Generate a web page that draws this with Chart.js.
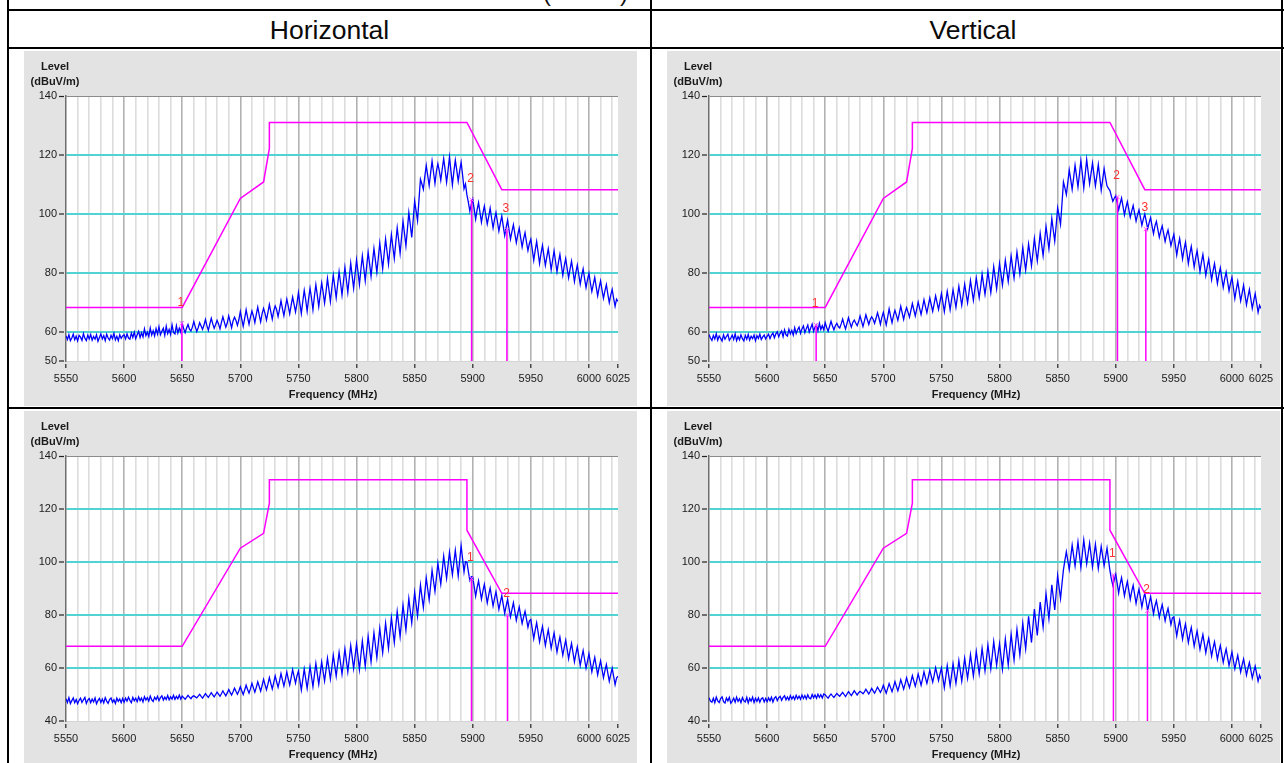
<!DOCTYPE html>
<html>
<head>
<meta charset="utf-8">
<script src="https://cdn.jsdelivr.net/npm/chart.js@4.4.1/dist/chart.umd.min.js"></script>
<style>
  html, body { margin: 0; padding: 0; background: #fff; width: 1284px; height: 763px; overflow: hidden;
               font-family: "Liberation Sans", Arial, sans-serif; }
  .rule { position: absolute; background: #000; }
  .head { position: absolute; top: 12px; height: 36px; line-height: 36px; text-align: center;
          font-size: 26.5px; color: #0a0a0a; }
  .cut { position: absolute; top: -19px; font-size: 24px; line-height: 24px; color: #111; }
  canvas { position: absolute; }
</style>
</head>
<body>
<div class="cut" style="left:543px">(</div>
<div class="cut" style="left:620px">)</div>

<div class="rule" style="left:7px;top:9px;width:1277px;height:2px"></div>
<div class="rule" style="left:7px;top:47px;width:1277px;height:2px"></div>
<div class="rule" style="left:7px;top:407px;width:1277px;height:2px"></div>
<div class="rule" style="left:7px;top:0;width:2px;height:763px"></div>
<div class="rule" style="left:650px;top:0;width:2px;height:763px"></div>
<div class="rule" style="left:1281px;top:0;width:2px;height:763px"></div>

<div class="head" style="left:9px;width:641px">Horizontal</div>
<div class="head" style="left:652px;width:642px">Vertical</div>

<canvas id="hTop" width="613" height="355" style="left:24px;top:51px"></canvas>
<canvas id="vTop" width="613" height="355" style="left:667px;top:51px"></canvas>
<canvas id="hBottom" width="613" height="355" style="left:24px;top:411px"></canvas>
<canvas id="vBottom" width="613" height="355" style="left:667px;top:411px"></canvas>

<script>
// Sweep: 5550 MHz to 6025 MHz, one reading every 1.25 MHz (381 points, 40 per 50 MHz row)
const SWEEP_START_MHZ = 5550;
const SWEEP_STEP_MHZ = 1.25;

// Measured level (dBuV/m), horizontal polarisation, upper plot
const H_TOP_TRACE = [
  58.6, 57.3, 58.9, 56.9, 57.8, 59.1, 57.2, 58.4, 56.8, 58.7, 58.1, 57.0, 59.3, 57.7, 56.9, 58.8, 57.5, 59.0, 57.1, 58.3,
  57.4, 58.9, 56.7, 58.0, 59.2, 57.5, 58.6, 56.9, 59.1, 57.8, 57.1, 58.7, 57.6, 59.4, 57.2, 58.4, 56.9, 58.9, 57.7, 58.5,
  58.9, 57.5, 59.2, 57.8, 57.4, 59.5, 58.0, 59.8, 57.6, 58.9, 60.1, 58.0, 59.6, 58.2, 60.9, 58.6, 59.8, 58.3, 61.2, 58.8,
  60.3, 58.5, 61.0, 59.1, 61.6, 58.9, 60.1, 61.1, 58.7, 61.8, 59.3, 60.7, 59.0, 62.3, 59.7, 59.2, 62.0, 59.5, 61.2, 59.8,
  62.7, 61.0, 59.6, 61.2, 62.4, 60.8, 60.2, 61.5, 63.4, 61.6, 60.0, 61.3, 63.0, 61.9, 60.7, 62.2, 64.1, 62.0, 60.4, 62.5,
  64.5, 62.7, 61.1, 62.4, 63.8, 62.6, 60.9, 63.1, 65.0, 63.2, 61.5, 62.9, 65.3, 63.4, 61.3, 63.6, 64.9, 63.8, 62.1, 64.0,
  66.8, 64.2, 61.8, 64.5, 67.4, 64.8, 62.5, 65.0, 67.0, 65.3, 63.0, 65.8, 68.3, 65.6, 63.3, 66.1, 67.9, 66.2, 63.9, 66.4,
  69.2, 66.7, 64.2, 67.0, 68.7, 67.4, 65.1, 67.6, 70.5, 67.8, 65.4, 68.3, 71.0, 68.6, 66.0, 69.0, 71.7, 69.2, 66.7, 69.6,
  73.2, 69.5, 66.1, 70.2, 74.0, 70.8, 66.9, 71.1, 74.7, 71.4, 67.4, 72.0, 75.9, 72.3, 68.5, 72.6, 76.5, 73.4, 69.7, 73.5,
  78.0, 74.2, 70.2, 74.8, 79.1, 75.4, 71.5, 75.9, 80.3, 76.5, 72.4, 77.0, 81.8, 77.6, 73.3, 78.2, 83.2, 78.9, 74.7, 79.5,
  84.3, 80.4, 76.0, 81.0, 85.7, 81.5, 77.2, 82.3, 86.9, 83.0, 78.8, 83.6, 88.2, 84.2, 80.1, 85.0, 90.0, 85.7, 81.3, 86.4,
  91.4, 87.2, 82.9, 88.0, 92.9, 88.8, 84.8, 90.1, 95.2, 91.0, 86.6, 92.0, 97.5, 93.4, 89.1, 94.6, 100.4, 96.3, 92.0, 97.8,
  104.3, 101.0, 97.7, 104.8, 111.7, 110.1, 108.3, 112.6, 116.4, 113.0, 109.6, 113.8, 117.9, 114.1, 110.3, 114.5, 117.0, 114.6, 111.4, 115.2,
  118.7, 114.9, 110.7, 114.7, 119.3, 114.5, 109.8, 114.3, 118.2, 114.8, 111.1, 114.6, 117.5, 113.2, 108.5, 110.1, 106.4, 103.9, 100.9, 103.2,
  104.9, 101.6, 98.2, 101.3, 103.8, 100.4, 97.1, 100.2, 102.6, 99.5, 96.5, 99.0, 101.9, 98.4, 95.2, 98.1, 100.4, 97.3, 94.1, 96.8,
  99.2, 95.8, 92.6, 95.4, 97.8, 94.5, 91.4, 94.0, 96.3, 93.2, 90.2, 92.9, 95.1, 91.8, 88.7, 91.5, 93.6, 90.4, 87.5, 89.9,
  91.4, 87.8, 84.2, 87.6, 90.6, 86.9, 83.1, 86.5, 89.3, 85.8, 82.5, 85.4, 88.1, 84.7, 81.0, 84.3, 87.4, 83.8, 80.3, 83.5,
  86.2, 82.6, 79.1, 82.3, 84.8, 81.4, 78.2, 81.2, 83.9, 80.6, 77.0, 80.1, 82.6, 79.3, 76.1, 79.0, 81.3, 78.0, 74.9, 77.6,
  79.8, 76.5, 73.6, 76.0, 78.4, 75.2, 72.1, 74.9, 77.2, 74.1, 71.3, 73.8, 75.9, 72.7, 69.8, 72.4, 74.3, 71.3, 68.6, 71.0,
  70.2
];

// Measured level (dBuV/m), vertical polarisation, upper plot
const V_TOP_TRACE = [
  59.0, 57.8, 57.0, 58.7, 57.5, 59.3, 57.1, 58.5, 57.7, 56.8, 58.9, 57.4, 58.3, 59.1, 57.0, 57.8, 58.8, 57.3, 59.2, 56.9,
  58.3, 57.2, 58.9, 57.6, 56.8, 58.7, 57.4, 59.0, 57.1, 58.4, 57.6, 58.8, 56.9, 58.6, 57.7, 59.1, 57.3, 58.2, 58.8, 57.5,
  58.4, 59.1, 57.6, 58.8, 59.5, 57.9, 59.2, 59.9, 58.2, 59.4, 60.2, 58.3, 60.6, 58.9, 58.5, 60.8, 59.2, 60.4, 58.8, 61.3,
  59.3, 60.6, 61.5, 59.4, 60.9, 61.9, 59.6, 61.0, 62.2, 59.8, 61.2, 62.5, 60.1, 61.6, 62.3, 60.3, 62.8, 60.7, 62.0, 60.6,
  63.0, 61.4, 60.1, 61.8, 63.5, 61.9, 60.6, 62.0, 62.8, 61.7, 61.2, 62.6, 64.2, 62.4, 60.9, 62.8, 64.7, 63.0, 61.5, 63.1,
  63.9, 62.9, 62.0, 63.4, 65.3, 63.5, 61.7, 63.6, 65.7, 64.0, 62.4, 64.1, 65.0, 64.2, 62.8, 64.5, 66.4, 64.6, 62.5, 64.8,
  66.5, 64.4, 62.3, 64.9, 67.7, 65.2, 63.0, 65.4, 67.2, 65.6, 63.8, 66.1, 68.6, 66.3, 64.1, 66.5, 68.1, 66.6, 64.9, 67.2,
  69.5, 67.4, 65.3, 67.6, 70.0, 67.9, 65.8, 68.2, 70.8, 68.5, 66.4, 68.9, 71.4, 69.1, 66.9, 69.4, 72.1, 69.8, 67.5, 70.1,
  72.9, 69.9, 66.8, 70.3, 73.7, 70.6, 67.4, 70.9, 74.2, 71.3, 68.2, 71.8, 75.4, 72.1, 68.9, 72.5, 76.1, 72.9, 69.8, 73.4,
  77.3, 74.0, 70.6, 74.3, 78.2, 74.8, 71.5, 75.1, 79.5, 76.0, 72.6, 76.2, 80.4, 76.8, 73.2, 77.3, 82.0, 78.4, 74.5, 78.6,
  83.1, 79.5, 75.8, 79.9, 84.2, 80.6, 77.0, 81.2, 85.7, 81.9, 78.2, 82.4, 87.0, 83.3, 79.5, 83.9, 88.5, 84.6, 80.9, 85.1,
  89.7, 86.1, 82.3, 86.8, 91.6, 87.7, 84.0, 88.4, 93.3, 89.5, 85.8, 90.6, 95.7, 91.9, 88.1, 93.0, 98.4, 94.4, 90.7, 96.1,
  102.0, 99.3, 96.4, 103.5, 110.8, 108.8, 106.5, 110.6, 114.9, 111.7, 108.3, 112.2, 116.5, 112.9, 109.1, 113.4, 118.0, 113.6, 108.8, 113.5,
  118.4, 114.2, 110.2, 113.7, 117.2, 113.4, 109.5, 112.9, 116.7, 112.5, 108.0, 111.6, 115.3, 112.2, 109.4, 108.6, 107.9, 106.0, 104.2, 105.3,
  106.2, 103.8, 101.3, 103.4, 105.3, 102.5, 99.6, 102.1, 104.1, 101.5, 98.8, 100.9, 102.8, 100.1, 97.5, 99.6, 101.3, 98.8, 96.1, 98.2,
  99.9, 97.4, 94.9, 97.0, 98.7, 95.8, 93.2, 95.9, 97.4, 94.6, 92.0, 94.3, 95.9, 93.3, 90.6, 92.8, 94.5, 91.8, 89.2, 91.2,
  93.0, 89.5, 86.0, 89.1, 91.6, 88.2, 84.7, 87.8, 90.3, 86.8, 83.1, 86.4, 88.9, 85.4, 81.9, 85.0, 87.4, 83.9, 80.4, 83.6,
  86.2, 82.6, 79.0, 82.1, 84.5, 81.0, 77.6, 80.6, 83.1, 79.7, 76.3, 79.3, 81.6, 78.2, 75.0, 77.9, 80.2, 77.0, 73.8, 76.4,
  78.4, 74.8, 71.2, 74.3, 77.0, 73.7, 70.4, 73.0, 75.7, 72.4, 69.1, 71.8, 74.3, 71.1, 67.9, 70.5, 72.9, 69.7, 66.5, 68.9,
  67.8
];

// Measured level (dBuV/m), horizontal polarisation, lower plot
const H_BOTTOM_TRACE = [
  48.4, 47.0, 48.8, 46.6, 47.7, 48.7, 46.9, 48.1, 46.5, 47.8, 48.6, 47.0, 48.0, 48.9, 46.6, 47.9, 48.5, 46.9, 48.3, 47.2,
  48.7, 46.5, 47.7, 48.5, 47.0, 48.3, 46.8, 48.8, 47.5, 46.7, 48.1, 48.7, 47.1, 48.0, 46.6, 48.6, 47.4, 48.3, 46.9, 48.5,
  47.1, 48.6, 47.5, 49.0, 47.8, 46.9, 48.9, 47.6, 48.6, 47.3, 49.1, 47.7, 48.7, 47.2, 49.2, 47.9, 48.8, 47.5, 49.4, 48.0,
  47.4, 49.0, 48.1, 49.3, 47.7, 48.8, 49.5, 47.9, 49.0, 48.1, 49.6, 48.0, 49.1, 48.3, 49.7, 48.2, 49.3, 48.4, 49.8, 48.3,
  49.4, 48.8, 48.2, 48.9, 49.7, 49.0, 48.4, 49.2, 49.5, 49.1, 48.7, 49.4, 50.1, 49.3, 48.6, 49.5, 50.3, 49.6, 48.9, 49.8,
  50.7, 49.9, 49.1, 50.0, 50.9, 50.1, 49.3, 50.3, 51.4, 50.4, 49.5, 50.6, 51.9, 50.8, 49.8, 51.0, 52.4, 51.2, 50.1, 51.3,
  52.9, 51.4, 50.0, 51.7, 53.5, 51.9, 50.5, 52.2, 54.2, 52.5, 50.9, 52.7, 54.8, 53.0, 51.3, 53.4, 55.7, 53.7, 51.8, 53.9,
  56.4, 54.2, 52.1, 54.5, 57.0, 54.8, 52.7, 55.1, 57.9, 55.5, 53.2, 55.7, 58.5, 55.9, 53.6, 56.4, 59.4, 56.8, 54.3, 57.0,
  58.8, 55.3, 51.7, 55.6, 59.6, 56.0, 52.3, 56.4, 60.5, 56.8, 53.0, 57.3, 61.7, 57.7, 53.9, 58.0, 62.3, 58.6, 55.1, 59.3,
  63.7, 59.8, 55.8, 60.1, 64.8, 60.9, 56.9, 61.4, 65.9, 61.8, 57.7, 62.3, 67.2, 62.9, 58.6, 63.5, 68.5, 64.2, 59.8, 64.4,
  69.0, 64.3, 59.4, 64.8, 70.2, 65.4, 60.6, 66.2, 71.9, 67.1, 62.3, 67.8, 73.3, 68.6, 63.9, 69.4, 75.0, 70.3, 65.7, 71.2,
  76.9, 72.1, 67.4, 73.2, 79.0, 74.3, 69.6, 75.5, 81.3, 76.6, 71.8, 77.7, 83.7, 79.0, 74.3, 80.2, 86.2, 81.6, 77.0, 82.8,
  88.5, 84.1, 79.6, 85.4, 91.3, 87.0, 82.8, 88.4, 94.0, 89.8, 85.7, 91.2, 96.9, 92.8, 88.9, 94.1, 99.5, 95.5, 91.6, 96.8,
  102.2, 98.0, 93.8, 98.7, 103.7, 99.4, 95.2, 99.8, 104.4, 99.6, 94.7, 100.4, 106.2, 101.3, 96.3, 100.1, 99.9, 96.4, 93.1, 94.5,
  94.3, 90.7, 87.1, 90.3, 92.9, 89.4, 86.0, 89.0, 91.6, 88.1, 84.6, 87.6, 90.2, 86.8, 83.4, 86.3, 88.8, 85.4, 82.1, 84.9,
  87.3, 83.9, 80.6, 83.4, 85.9, 82.6, 79.3, 82.1, 84.6, 81.3, 78.0, 80.7, 83.0, 79.9, 76.8, 79.2, 81.4, 78.4, 75.4, 77.8,
  78.3, 74.7, 71.1, 74.3, 77.1, 73.5, 69.9, 73.0, 75.7, 72.1, 68.5, 71.6, 74.4, 70.9, 67.4, 70.5, 73.2, 69.6, 66.0, 69.1,
  71.7, 68.2, 64.8, 67.8, 70.5, 67.0, 63.5, 66.6, 69.3, 65.8, 62.3, 65.3, 68.0, 64.5, 61.0, 64.0, 66.6, 63.2, 59.9, 62.6,
  65.4, 62.0, 58.6, 61.5, 64.0, 60.7, 57.4, 60.2, 62.7, 59.5, 56.3, 59.0, 61.3, 58.1, 55.0, 57.6, 59.9, 56.8, 53.7, 56.2,
  56.9
];

// Measured level (dBuV/m), vertical polarisation, lower plot
const V_BOTTOM_TRACE = [
  48.8, 47.5, 47.1, 48.6, 46.9, 49.0, 47.6, 47.0, 48.5, 49.1, 47.3, 46.8, 48.7, 47.6, 48.9, 46.7, 47.5, 48.6, 47.1, 49.0,
  47.4, 48.4, 46.9, 48.8, 47.6, 47.2, 48.9, 46.8, 48.5, 47.5, 49.0, 47.0, 48.6, 47.4, 48.7, 47.1, 48.4, 48.8, 47.2, 48.5,
  47.3, 48.7, 47.6, 49.0, 47.2, 48.6, 49.2, 47.7, 48.8, 49.3, 47.8, 48.9, 49.5, 48.0, 49.1, 47.9, 49.6, 48.3, 49.3, 48.1,
  49.7, 48.4, 49.4, 48.2, 49.8, 48.5, 49.6, 48.3, 49.9, 48.7, 48.4, 50.0, 48.8, 49.8, 48.6, 50.1, 48.9, 49.9, 48.7, 50.2,
  49.9, 49.2, 48.6, 49.5, 50.2, 49.5, 48.9, 49.7, 50.4, 49.8, 49.3, 50.1, 50.8, 50.0, 49.2, 50.2, 51.1, 50.3, 49.6, 50.5,
  51.4, 50.6, 49.8, 50.7, 51.2, 50.8, 50.3, 51.0, 52.0, 51.1, 50.2, 51.2, 52.3, 51.4, 50.5, 51.6, 52.8, 51.8, 50.8, 51.9,
  53.5, 52.0, 50.5, 52.3, 54.1, 52.6, 51.1, 52.9, 54.9, 53.1, 51.4, 53.3, 55.6, 53.8, 52.0, 54.0, 56.3, 54.4, 52.6, 54.8,
  57.1, 55.1, 53.1, 55.3, 57.7, 55.6, 53.5, 55.9, 58.6, 56.3, 54.2, 56.6, 59.2, 56.9, 54.7, 57.2, 60.1, 57.7, 55.3, 57.8,
  60.0, 56.3, 52.6, 56.6, 60.9, 57.1, 53.3, 57.3, 61.6, 57.9, 54.2, 58.2, 62.8, 58.9, 55.0, 59.2, 63.7, 59.8, 56.1, 60.3,
  65.0, 61.0, 56.9, 61.4, 66.2, 62.0, 57.8, 62.4, 67.4, 63.1, 58.9, 63.6, 68.7, 64.2, 59.7, 64.7, 70.0, 65.5, 61.0, 65.2,
  69.2, 64.4, 59.6, 65.1, 70.9, 66.0, 61.1, 66.8, 72.7, 67.8, 63.0, 68.7, 74.6, 69.7, 64.9, 70.7, 76.8, 72.0, 67.2, 73.3,
  79.5, 74.6, 69.6, 75.8, 82.2, 77.2, 72.3, 78.5, 84.9, 80.1, 75.4, 81.6, 88.0, 83.3, 78.6, 84.9, 91.4, 86.7, 81.9, 88.3,
  94.9, 90.4, 86.2, 91.8, 97.1, 100.6, 103.9, 100.5, 97.2, 101.8, 106.4, 102.4, 98.5, 103.0, 107.6, 102.7, 98.0, 103.1, 108.3, 103.7,
  99.3, 103.2, 107.1, 102.6, 98.1, 102.4, 106.7, 102.1, 97.5, 101.7, 105.9, 102.2, 98.6, 101.9, 105.2, 101.0, 96.8, 93.5, 91.2, 93.3,
  95.4, 91.9, 88.3, 91.6, 94.1, 90.7, 87.2, 90.2, 92.6, 89.3, 85.9, 88.9, 91.2, 87.8, 84.4, 87.4, 89.8, 86.4, 83.0, 86.0,
  88.3, 85.0, 81.7, 84.5, 86.9, 83.7, 80.4, 83.4, 85.4, 82.3, 79.1, 81.8, 83.9, 80.9, 77.8, 80.5, 82.5, 79.5, 76.4, 78.9,
  79.3, 75.7, 72.1, 75.4, 78.0, 74.5, 70.9, 74.1, 76.6, 73.1, 69.6, 72.8, 75.3, 71.8, 68.2, 71.3, 73.9, 70.4, 67.0, 70.0,
  72.6, 69.2, 65.7, 68.8, 71.2, 67.9, 64.5, 67.5, 69.9, 66.6, 63.3, 66.2, 68.5, 65.3, 62.1, 64.9, 67.2, 64.0, 60.9, 63.5,
  66.0, 62.8, 59.7, 62.4, 64.8, 61.6, 58.5, 61.2, 63.4, 60.4, 57.3, 59.9, 62.1, 59.2, 56.2, 58.6, 60.7, 57.9, 55.0, 57.3,
  55.8
];

// Limit masks (frequency MHz / level dBuV/m)
const LIMIT_TOP_FREQ  = [5550, 5650, 5700, 5720, 5725, 5725, 5895, 5925, 6025];
const LIMIT_TOP_LEVEL = [68.2, 68.2, 105.2, 110.8, 122.2, 131.0, 131.0, 108.2, 108.2];
const LIMIT_BOTTOM_FREQ  = [5550, 5650, 5700, 5720, 5725, 5725, 5895, 5895, 5925, 6025];
const LIMIT_BOTTOM_LEVEL = [68.2, 68.2, 105.2, 110.8, 122.2, 131.0, 131.0, 112.0, 88.2, 88.2];

// Markers (frequency MHz / level dBuV/m)
const H_TOP_MARKER_FREQ  = [5649.7, 5899.0, 5929.4];
const H_TOP_MARKER_LEVEL = [62.8, 104.8, 94.6];
const V_TOP_MARKER_FREQ  = [5642.2, 5901.5, 5925.9];
const V_TOP_MARKER_LEVEL = [62.2, 105.7, 94.8];
const H_BOTTOM_MARKER_FREQ  = [5898.9, 5929.9];
const H_BOTTOM_MARKER_LEVEL = [93.8, 80.0];
const V_BOTTOM_MARKER_FREQ  = [5898.0, 5927.3];
const V_BOTTOM_MARKER_LEVEL = [95.1, 81.6];

// Axis ticks
const X_TICK_LABELS = [5550, 5600, 5650, 5700, 5750, 5800, 5850, 5900, 5950, 6000, 6025];
const X_GRID_STEP_MHZ = 10;
const Y_TICKS_TOP = [50, 60, 80, 100, 120, 140];
const Y_TICKS_BOTTOM = [40, 60, 80, 100, 120, 140];

const FONT_FAMILY = '"Liberation Sans", Arial, sans-serif';

// Vertical grid positions: every 10 MHz plus the 6025 MHz stop frequency
const X_GRID = [];
for (let f = 5550; f < 6025; f += X_GRID_STEP_MHZ) X_GRID.push(f);
X_GRID.push(6025);

function tracePoints(levels) {
  return levels.map((v, i) => ({ x: SWEEP_START_MHZ + i * SWEEP_STEP_MHZ, y: v }));
}
function pairPoints(freqs, levels) {
  return freqs.map((f, i) => ({ x: f, y: levels[i] }));
}

// Grey panel with white plotting area
const panelBackdrop = {
  id: 'panelBackdrop',
  beforeDraw(chart) {
    const { ctx, width, height, chartArea: a } = chart;
    ctx.save();
    ctx.fillStyle = '#e3e3e3';
    ctx.fillRect(0, 0, width, height);
    ctx.fillStyle = '#ffffff';
    ctx.fillRect(a.left, a.top, a.right - a.left, a.bottom - a.top);
    ctx.restore();
  }
};

// Axis captions and marker numbers
const panelText = {
  id: 'panelText',
  afterDraw(chart) {
    const { ctx, chartArea: a, scales } = chart;
    const cfg = chart.options.plugins.panelText;
    ctx.save();
    ctx.fillStyle = '#1a1a1a';
    ctx.font = 'bold 11px ' + FONT_FAMILY;
    ctx.textAlign = 'center';
    ctx.textBaseline = 'middle';
    ctx.fillText('Level', a.left - 11, 15.5);
    ctx.fillText('(dBuV/m)', a.left - 11, 30.5);
    ctx.fillText('Frequency (MHz)', a.left + 267, a.bottom + 33.5);

    ctx.font = '12px ' + FONT_FAMILY;
    ctx.fillStyle = '#ff3030';
    cfg.freqs.forEach((f, i) => {
      const px = scales.x.getPixelForValue(f);
      const py = scales.y.getPixelForValue(cfg.levels[i]);
      ctx.fillText(String(i + 1), px - 1, py - 21);
    });
    ctx.restore();
  }
};

function buildPanel(id, trace, limitF, limitL, markF, markL, yMin, yTicks) {
  const datasets = [];
  datasets.push({
    data: pairPoints(markF, markL),
    showLine: false,
    pointStyle: 'crossRot',
    pointRadius: 3,
    pointBorderWidth: 1,
    pointBorderColor: '#ff55ff',
    pointBackgroundColor: 'rgba(0,0,0,0)'
  });
  markF.forEach((f, i) => {
    datasets.push({
      data: [{ x: f, y: markL[i] }, { x: f, y: yMin }],
      showLine: true,
      borderColor: '#ff00ff',
      borderWidth: 1.5,
      pointRadius: 0
    });
  });
  datasets.push({
    data: pairPoints(limitF, limitL),
    showLine: true,
    borderColor: '#ff00ff',
    borderWidth: 1.5,
    pointRadius: 0,
    tension: 0
  });
  datasets.push({
    data: tracePoints(trace),
    showLine: true,
    borderColor: '#0000ff',
    borderWidth: 1.3,
    pointRadius: 0,
    tension: 0
  });

  return new Chart(document.getElementById(id), {
    type: 'scatter',
    data: { datasets },
    plugins: [panelBackdrop, panelText],
    options: {
      responsive: false,
      animation: false,
      devicePixelRatio: 1,
      events: [],
      layout: { padding: { left: 0, top: 45, right: 19, bottom: 0 } },
      plugins: {
        legend: { display: false },
        title: { display: false },
        tooltip: { enabled: false },
        panelText: { freqs: markF, levels: markL }
      },
      scales: {
        x: {
          type: 'linear',
          min: 5550,
          max: 6025,
          afterBuildTicks(scale) { scale.ticks = X_GRID.map(v => ({ value: v })); },
          afterFit(scale) { scale.height = 45; },
          ticks: {
            autoSkip: false,
            maxRotation: 0,
            minRotation: 0,
            padding: 4,
            color: '#1a1a1a',
            font: { family: FONT_FAMILY, size: 11 },
            callback: v => (X_TICK_LABELS.includes(v) ? String(v) : '')
          },
          grid: {
            z: -2,
            tickLength: 7,
            tickBorderDash: [0, 2, 5, 40],
            tickWidth: 1.2,
            tickColor: c => (c.tick && X_TICK_LABELS.includes(c.tick.value) ? '#222' : 'rgba(0,0,0,0)'),
            color: c => {
              const v = c.tick ? c.tick.value : 0;
              if (v === 5550 || v === 6025) return 'rgba(0,0,0,0)';
              return v % 50 === 0 ? '#b2b2b2' : '#dcdcdc';
            },
            lineWidth: 1.6
          },
          border: { display: true, color: '#d4d4d4', width: 1 }
        },
        y: {
          type: 'linear',
          min: yMin,
          max: 140,
          afterBuildTicks(scale) { scale.ticks = yTicks.map(v => ({ value: v })); },
          afterFit(scale) { scale.width = 42; },
          ticks: {
            padding: 2,
            color: '#1a1a1a',
            font: { family: FONT_FAMILY, size: 11 }
          },
          grid: {
            z: -1,
            tickLength: 7,
            tickBorderDash: [5, 40],
            tickWidth: 1.2,
            tickColor: '#222',
            color: c => {
              const v = c.tick ? c.tick.value : 0;
              if (v === 140) return '#8a8a8a';
              if (v === yMin) return 'rgba(0,0,0,0)';
              return '#4fd3d3';
            },
            lineWidth: c => (c.tick && c.tick.value === 140 ? 1 : 2)
          },
          border: { display: true, color: '#6e6e6e', width: 1.5 }
        }
      }
    }
  });
}

buildPanel('hTop', H_TOP_TRACE, LIMIT_TOP_FREQ, LIMIT_TOP_LEVEL,
           H_TOP_MARKER_FREQ, H_TOP_MARKER_LEVEL, 50, Y_TICKS_TOP);
buildPanel('vTop', V_TOP_TRACE, LIMIT_TOP_FREQ, LIMIT_TOP_LEVEL,
           V_TOP_MARKER_FREQ, V_TOP_MARKER_LEVEL, 50, Y_TICKS_TOP);
buildPanel('hBottom', H_BOTTOM_TRACE, LIMIT_BOTTOM_FREQ, LIMIT_BOTTOM_LEVEL,
           H_BOTTOM_MARKER_FREQ, H_BOTTOM_MARKER_LEVEL, 40, Y_TICKS_BOTTOM);
buildPanel('vBottom', V_BOTTOM_TRACE, LIMIT_BOTTOM_FREQ, LIMIT_BOTTOM_LEVEL,
           V_BOTTOM_MARKER_FREQ, V_BOTTOM_MARKER_LEVEL, 40, Y_TICKS_BOTTOM);
</script>
</body>
</html>
